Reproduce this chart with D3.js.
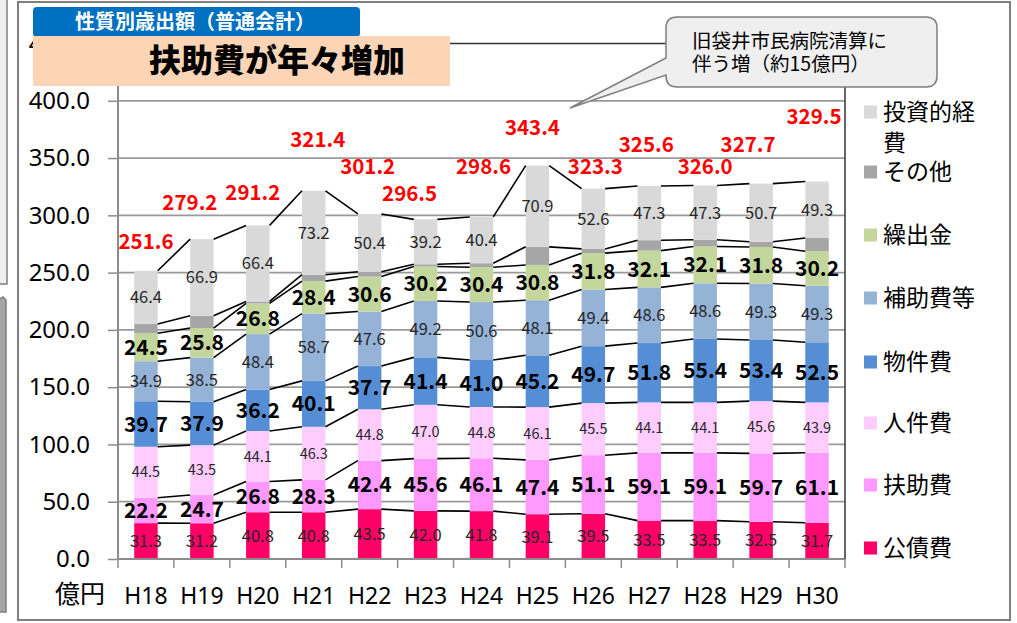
<!DOCTYPE html>
<html>
<head>
<meta charset="utf-8">
<script src="https://cdn.jsdelivr.net/npm/d3@7"></script>
<style>
  body { margin: 0; background: #fff; }
  svg { display: block; font-family: "Noto Sans CJK JP", "Noto Sans", sans-serif; }
</style>
</head>
<body>
<div id="chart1"></div>
<script>
// data
var years = ['H18','H19','H20','H21','H22','H23','H24','H25','H26','H27','H28','H29','H30'];
var kousaihi   = [31.3,31.2,40.8,40.8,43.5,42.0,41.8,39.1,39.5,33.5,33.5,32.5,31.7];
var fujohi     = [22.2,24.7,26.8,28.3,42.4,45.6,46.1,47.4,51.1,59.1,59.1,59.7,61.1];
var jinkenhi   = [44.5,43.5,44.1,46.3,44.8,47.0,44.8,46.1,45.5,44.1,44.1,45.6,43.9];
var bukkenhi   = [39.7,37.9,36.2,40.1,37.7,41.4,41.0,45.2,49.7,51.8,55.4,53.4,52.5];
var hojohi     = [34.9,38.5,48.4,58.7,47.6,49.2,50.6,48.1,49.4,48.6,48.6,49.3,49.3];
var kuridashi  = [24.5,25.8,26.8,28.4,30.6,30.2,30.4,30.8,31.8,32.1,32.1,31.8,30.2];
var sonota     = [8.1,10.7,1.7,5.6,4.2,1.9,3.5,15.8,3.7,9.1,5.9,4.7,11.5];
var toushi     = [46.4,66.9,66.4,73.2,50.4,39.2,40.4,70.9,52.6,47.3,47.3,50.7,49.3];
var totals     = [251.6,279.2,291.2,321.4,301.2,296.5,298.6,343.4,323.3,325.6,326.0,327.7,329.5];
var yTicks     = [0,50,100,150,200,250,300,350,400,450];

// layout of the hand-placed total labels (px above bar top)
var totalLift = [29,37,33,51,47,26,50,38,22,41,19,39,65];
var totalShift = [0,-12,-5,4,-2,-16,2,-5,2,-3,0,-13,-3];

var series = [
  { name: '公債費',   values: kousaihi,  color: '#FF0066', label: 'normal' },
  { name: '扶助費',   values: fujohi,    color: '#FF99FF', label: 'bold' },
  { name: '人件費',   values: jinkenhi,  color: '#FFCCFF', label: 'small' },
  { name: '物件費',   values: bukkenhi,  color: '#558ED5', label: 'bold' },
  { name: '補助費等', values: hojohi,    color: '#95B3D7', label: 'normal' },
  { name: '繰出金',   values: kuridashi, color: '#C3D69B', label: 'bold' },
  { name: 'その他',   values: sonota,    color: '#A6A6A6', label: 'none' },
  { name: '投資的経費', values: toushi,  color: '#D9D9D9', label: 'normal' }
];

var W = 1017, H = 623,
    plotL = 118, plotR = 845, plotT = 43.5, plotB = 559;

var svg = d3.select('#chart1').append('svg')
  .attr('width', W)
  .attr('height', H);

svg.append('rect').attr('width', W).attr('height', H).attr('fill', '#fff');

// stray slide elements at the left edge
svg.append('rect').attr('x', -2).attr('y', -2).attr('width', 9).attr('height', 286)
  .attr('fill', '#eeeeee').attr('stroke', '#7f7f7f').attr('stroke-width', 1.5);
svg.append('path').attr('d', 'M-2,300 L3,297 L6,300 L6,612 L-2,612 Z')
  .attr('fill', '#a6a6a6').attr('stroke', '#7f7f7f').attr('stroke-width', 1.5);

// outer frame
svg.append('rect').attr('x', 18).attr('y', 2).attr('width', 992).attr('height', 618)
  .attr('fill', 'none').attr('stroke', '#7f7f7f').attr('stroke-width', 2);

var xScale = d3.scaleBand()
  .domain(years)
  .range([plotL, plotR])
  .paddingInner(0.58)
  .paddingOuter(0.29);

var yScale = d3.scaleLinear()
  .domain([0, 450])
  .range([plotB, plotT]);

var step = xScale.step(),
    bw = xScale.bandwidth();

// stack
var rows = years.map(function(y, i) {
  var r = { year: y };
  series.forEach(function(s) { r[s.name] = s.values[i]; });
  return r;
});
var stacked = d3.stack().keys(series.map(function(s) { return s.name; }))(rows);

// gridlines
svg.append('g').selectAll('line').data(yTicks.slice(1)).enter().append('line')
  .attr('x1', plotL).attr('x2', plotR)
  .attr('y1', function(d) { return yScale(d); })
  .attr('y2', function(d) { return yScale(d); })
  .attr('stroke', function(d) { return d === 450 ? '#333' : '#999'; })
  .attr('stroke-width', function(d) { return d === 450 ? 1.5 : 1.8; });

// bars
var layers = svg.append('g').selectAll('g').data(stacked).enter().append('g')
  .attr('fill', function(d, i) { return series[i].color; });

layers.selectAll('rect').data(function(d) { return d; }).enter().append('rect')
  .attr('x', function(d) { return xScale(d.data.year); })
  .attr('width', bw)
  .attr('y', function(d) { return yScale(d[1]); })
  .attr('height', function(d) { return yScale(d[0]) - yScale(d[1]); });

// series lines between bars
var links = [];
stacked.forEach(function(layer) {
  for (var i = 0; i < layer.length - 1; i++) {
    links.push({ a: layer[i], b: layer[i + 1] });
  }
});
svg.append('g').selectAll('line').data(links).enter().append('line')
  .attr('x1', function(d) { return xScale(d.a.data.year) + bw; })
  .attr('y1', function(d) { return yScale(d.a[1]); })
  .attr('x2', function(d) { return xScale(d.b.data.year); })
  .attr('y2', function(d) { return yScale(d.b[1]); })
  .attr('stroke', '#000')
  .attr('stroke-width', 1.6);

// segment labels
var labelStyle = {
  normal: { size: 16.5, weight: 'normal', fill: '#262626' },
  small:  { size: 14.5, weight: 'normal', fill: '#262626' },
  bold:   { size: 21,   weight: 'bold',   fill: '#000' }
};
stacked.forEach(function(layer, k) {
  var st = labelStyle[series[k].label];
  if (!st) return;
  svg.append('g').selectAll('text').data(layer).enter().append('text')
    .attr('x', function(d) { return xScale(d.data.year) + bw / 2; })
    .attr('y', function(d) { return yScale((d[0] + d[1]) / 2); })
    .attr('dy', '0.36em')
    .attr('text-anchor', 'middle')
    .attr('font-size', st.size)
    .attr('font-weight', st.weight)
    .attr('fill', st.fill)
    .text(function(d) { return (d[1] - d[0]).toFixed(1); });
});

// totals
svg.append('g').selectAll('text').data(totals).enter().append('text')
  .attr('x', function(d, i) { return xScale(years[i]) + bw / 2 + totalShift[i]; })
  .attr('y', function(d, i) { return yScale(d) - totalLift[i]; })
  .attr('dy', '0.36em')
  .attr('text-anchor', 'middle')
  .attr('font-size', 20.5)
  .attr('font-weight', 'bold')
  .attr('fill', '#FF0000')
  .text(function(d) { return d.toFixed(1); });

// axes
var yAxis = d3.axisLeft(yScale)
  .tickValues(yTicks)
  .tickSize(10)
  .tickPadding(18)
  .tickFormat(d3.format('.1f'));

var yGuide = svg.append('g')
  .attr('transform', 'translate(' + plotL + ',0)')
  .call(yAxis);
yGuide.select('.domain').attr('stroke', '#8c8c8c').attr('stroke-width', 2).attr('d', 'M0,' + plotT + 'V' + plotB);
yGuide.selectAll('.tick line').attr('stroke', '#8c8c8c').attr('stroke-width', 1.5);
yGuide.selectAll('.tick text')
  .attr('font-size', 24)
  .attr('font-family', '"Noto Sans", sans-serif')
  .attr('fill', '#000');

// x axis line + category ticks
svg.append('line').attr('x1', plotL).attr('x2', plotR).attr('y1', plotB).attr('y2', plotB)
  .attr('stroke', '#8c8c8c').attr('stroke-width', 2);
svg.append('g').selectAll('line').data(d3.range(years.length + 1)).enter().append('line')
  .attr('x1', function(i) { return plotL + i * step; })
  .attr('x2', function(i) { return plotL + i * step; })
  .attr('y1', plotB).attr('y2', plotB + 9)
  .attr('stroke', '#8c8c8c').attr('stroke-width', 1.5);

svg.append('g').selectAll('text').data(years).enter().append('text')
  .attr('x', function(d) { return xScale(d) + bw / 2; })
  .attr('y', 596)
  .attr('dy', '0.36em')
  .attr('text-anchor', 'middle')
  .attr('font-size', 23)
  .attr('font-family', '"Noto Sans", sans-serif')
  .text(function(d) { return d; });

svg.append('text').attr('x', 80).attr('y', 594).attr('dy', '0.36em')
  .attr('text-anchor', 'middle').attr('font-size', 25).text('億円');

// right border of plot area
svg.append('line').attr('x1', plotR).attr('x2', plotR).attr('y1', plotT).attr('y2', plotB)
  .attr('stroke', '#333').attr('stroke-width', 1.5);

// legend
var legendY = [112, 172, 235, 298, 362, 423, 485, 548];
var legendItems = series.slice().reverse();
var legend = svg.append('g').selectAll('g').data(legendItems).enter().append('g')
  .attr('transform', function(d, i) { return 'translate(864,' + legendY[i] + ')'; });
legend.append('rect').attr('x', 0).attr('y', -6.5).attr('width', 13).attr('height', 13)
  .attr('fill', function(d) { return d.color; });
legend.append('text').attr('x', 19).attr('dy', '0.36em').attr('font-size', 23)
  .each(function(d) {
    var t = d3.select(this);
    if (d.name === '投資的経費') {
      t.append('tspan').attr('x', 19).text('投資的経');
      t.append('tspan').attr('x', 19).attr('dy', 31).text('費');
    } else {
      t.text(d.name);
    }
  });

// title boxes
svg.append('rect').attr('x', 33).attr('y', 7).attr('width', 327).attr('height', 30).attr('rx', 4)
  .attr('fill', '#0070C0');
svg.append('text').attr('x', 195).attr('y', 22).attr('dy', '0.36em').attr('text-anchor', 'middle')
  .attr('font-size', 20).attr('font-weight', 'bold').attr('fill', '#fff')
  .text('性質別歳出額（普通会計）');
svg.append('rect').attr('x', 33).attr('y', 36).attr('width', 417).attr('height', 50)
  .attr('fill', '#FBD5B5');
svg.append('text').attr('x', 277).attr('y', 60).attr('dy', '0.36em').attr('text-anchor', 'middle')
  .attr('font-size', 32).attr('font-weight', 900).attr('fill', '#000')
  .text('扶助費が年々増加');

// callout
var cx0 = 666, cy0 = 17, cx1 = 937, cy1 = 87, r = 11;
svg.append('path')
  .attr('d', 'M' + (cx0 + r) + ',' + cy0 + 'H' + (cx1 - r) + 'Q' + cx1 + ',' + cy0 + ' ' + cx1 + ',' + (cy0 + r) +
    'V' + (cy1 - r) + 'Q' + cx1 + ',' + cy1 + ' ' + (cx1 - r) + ',' + cy1 +
    'H' + (cx0 + r) + 'Q' + cx0 + ',' + cy1 + ' ' + cx0 + ',' + (cy1 - r) +
    'V75L570,108L' + cx0 + ',58V' + (cy0 + r) + 'Q' + cx0 + ',' + cy0 + ' ' + (cx0 + r) + ',' + cy0 + 'Z')
  .attr('fill', '#efefef').attr('stroke', '#7f7f7f').attr('stroke-width', 1.5);
svg.append('text').attr('x', 692).attr('y', 41).attr('dy', '0.36em').attr('font-size', 19.5)
  .text('旧袋井市民病院清算に');
svg.append('text').attr('x', 692).attr('y', 64).attr('dy', '0.36em').attr('font-size', 19.5)
  .text('伴う増（約15億円）');
</script>
</body>
</html>
